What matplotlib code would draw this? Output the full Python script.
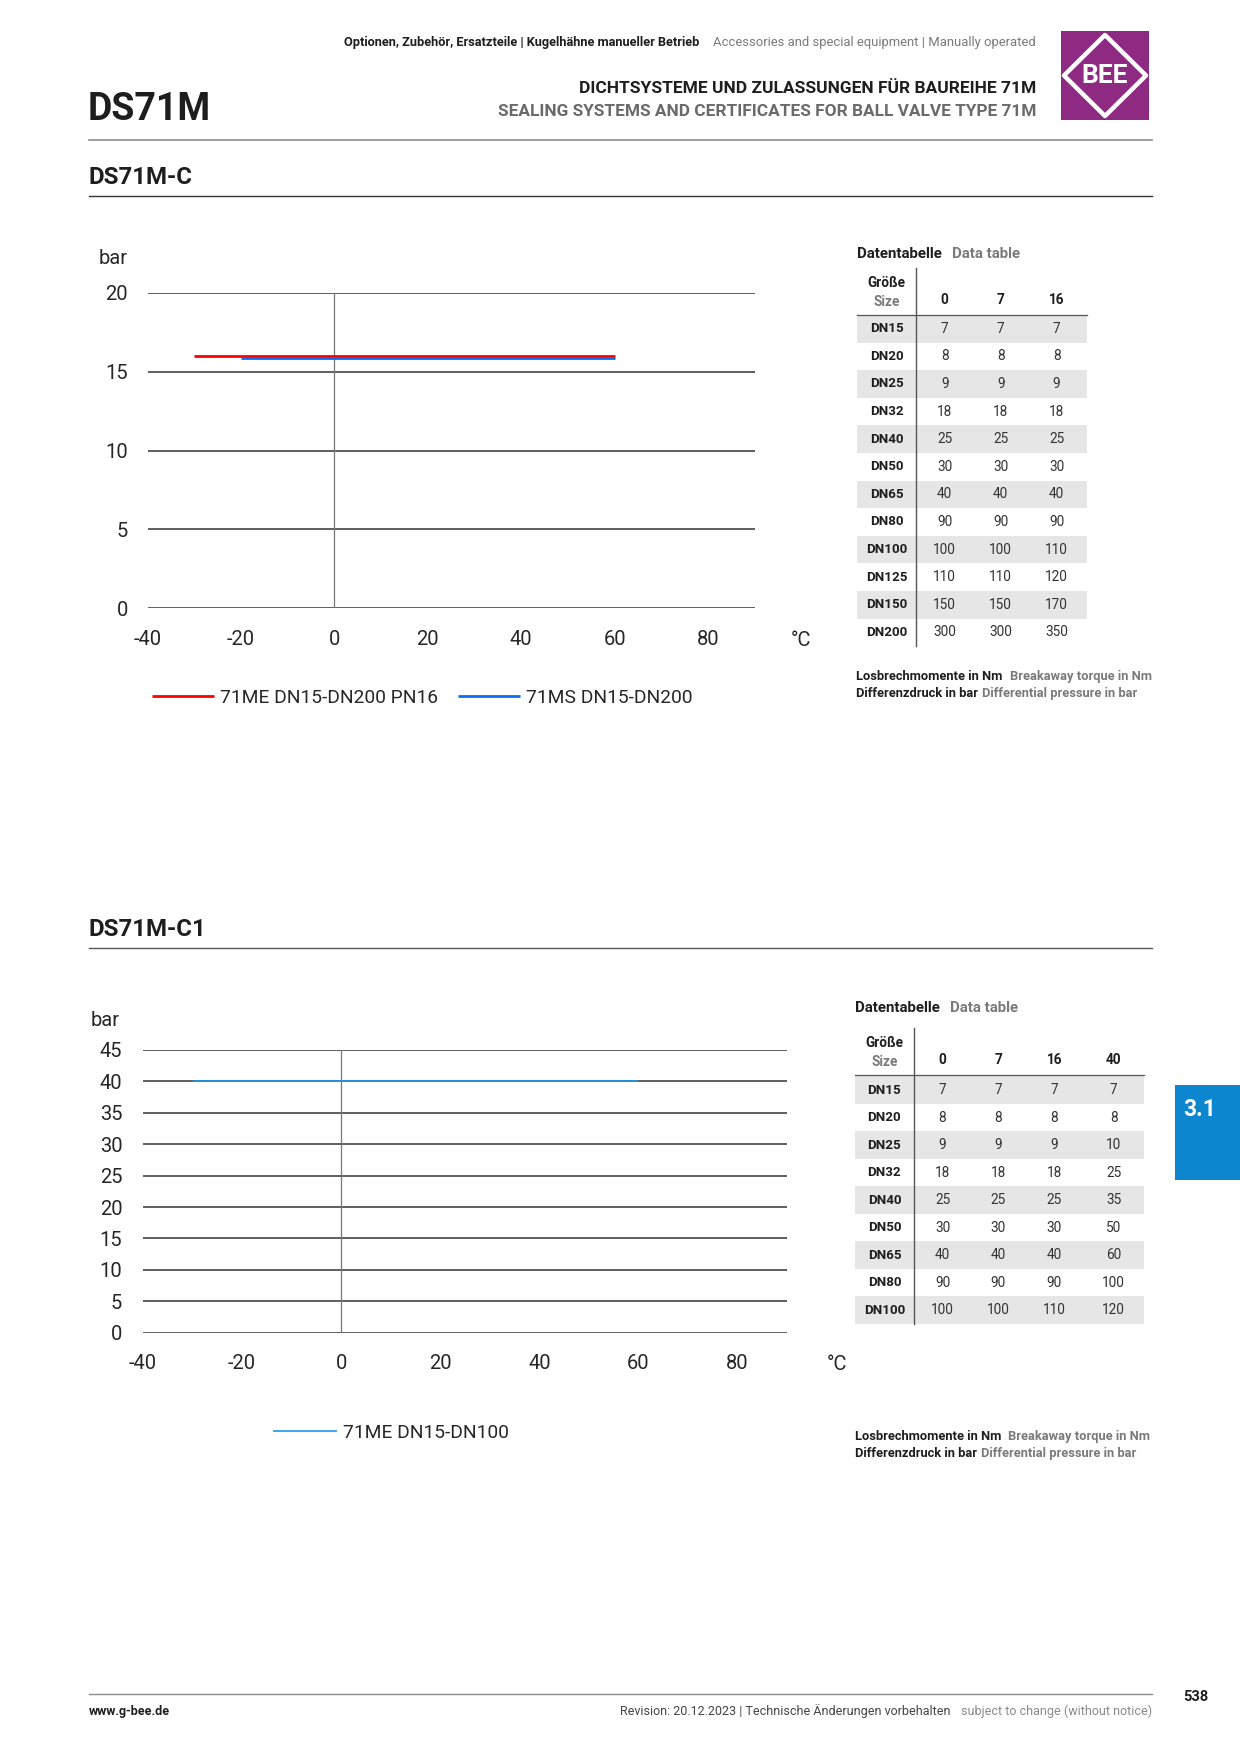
import matplotlib
matplotlib.use("Agg")
import matplotlib.pyplot as plt
from matplotlib.patches import Rectangle, Polygon

plt.rcParams["font.family"] = ["Roboto", "DejaVu Sans"]
plt.rcParams["axes.unicode_minus"] = False

# ---- data -------------------------------------------------------------
c1_series = ["71ME DN15-DN200 PN16", "71MS DN15-DN200"]
c1_colors = ["#ff0000", "#0a6cf5"]
c1_temps = [[-30, 60], [-20, 60]]
c1_bars = [[16, 16], [15.85, 15.85]]
c1_yticks = [0, 5, 10, 15, 20]

c2_series = ["71ME DN15-DN100"]
c2_colors = ["#1e96ee"]
c2_temps = [[-30, 60]]
c2_bars = [[40, 40]]
c2_yticks = [0, 5, 10, 15, 20, 25, 30, 35, 40, 45]

xticks = [-40, -20, 0, 20, 40, 60, 80]

t1_sizes = ["DN15", "DN20", "DN25", "DN32", "DN40", "DN50", "DN65", "DN80",
            "DN100", "DN125", "DN150", "DN200"]
t1_press = ["0", "7", "16"]
t1_vals = [[7, 7, 7], [8, 8, 8], [9, 9, 9], [18, 18, 18], [25, 25, 25],
           [30, 30, 30], [40, 40, 40], [90, 90, 90], [100, 100, 110],
           [110, 110, 120], [150, 150, 170], [300, 300, 350]]

t2_sizes = ["DN15", "DN20", "DN25", "DN32", "DN40", "DN50", "DN65", "DN80", "DN100"]
t2_press = ["0", "7", "16", "40"]
t2_vals = [[7, 7, 7, 7], [8, 8, 8, 8], [9, 9, 9, 10], [18, 18, 18, 25],
           [25, 25, 25, 35], [30, 30, 30, 50], [40, 40, 40, 60],
           [90, 90, 90, 100], [100, 100, 110, 120]]

DARK = "#1e1e1e"
GRAY = "#7a7a7a"
TXT = "#262626"

fig = plt.figure(figsize=(12.4, 17.54), dpi=100)

# page overlay in pixel coordinates
page = fig.add_axes([0, 0, 1, 1])
page.set_xlim(0, 1240)
page.set_ylim(1754, 0)
page.axis("off")

# header
page.text(1036, 42.5, "Accessories and special equipment | Manually operated",
          ha="right", va="center", fontsize=9.4, color=GRAY)
page.text(699, 42.5, "Optionen, Zubehör, Ersatzteile | Kugelhähne manueller Betrieb",
          ha="right", va="center", fontsize=9.2, color=DARK, fontweight="bold")
page.text(1036, 88.5, "DICHTSYSTEME UND ZULASSUNGEN FÜR BAUREIHE 71M",
          ha="right", va="center", fontsize=12.5, color=DARK, fontweight="bold")
page.text(1036, 111.5, "SEALING SYSTEMS AND CERTIFICATES FOR BALL VALVE TYPE 71M",
          ha="right", va="center", fontsize=12.4, color="#6a6a6a", fontweight="bold")
page.text(88, 109, "DS71M", ha="left", va="center", fontsize=27,
          color=DARK, fontweight="bold")

# logo
page.add_patch(Rectangle((1061, 31), 88, 89, facecolor="#8e2a82", edgecolor="none"))
page.add_patch(Polygon([(1105, 35), (1146, 75.5), (1105, 116), (1064, 75.5)],
                       closed=True, fill=False, edgecolor="white", lw=3.2,
                       joinstyle="round"))
page.text(1105, 76, "BEE", ha="center", va="center", fontsize=19,
          color="white", fontweight="bold")

page.plot([89, 1152], [140, 140], color="#8c8c8c", lw=1.2)

# section titles
page.text(88, 177, "DS71M-C", ha="left", va="center", fontsize=17.3,
          color=DARK, fontweight="bold")
page.plot([89, 1152], [196, 196], color="#333333", lw=1.0)
page.text(88, 929, "DS71M-C1", ha="left", va="center", fontsize=17.3,
          color=DARK, fontweight="bold")
page.plot([89, 1152], [948, 948], color="#555555", lw=1.0)

# chapter tab
page.add_patch(Rectangle((1175, 1085), 70, 95, facecolor="#0b86cf", edgecolor="none"))
page.text(1183, 1110, "3.1", ha="left", va="center", fontsize=16.5,
          color="white", fontweight="bold")

# footer
page.plot([89, 1152], [1694, 1694], color="#8c8c8c", lw=1.0)
page.text(89, 1711, "www.g-bee.de", ha="left", va="center", fontsize=9,
          color=DARK, fontweight="bold")
page.text(1152, 1711, "subject to change (without notice)", ha="right",
          va="center", fontsize=9, color="#8a8a8a")
page.text(951, 1711, "Revision: 20.12.2023 | Technische Änderungen vorbehalten",
          ha="right", va="center", fontsize=9, color="#444444")
page.text(1196, 1697, "538", ha="center", va="center", fontsize=10.5,
          color=DARK, fontweight="bold")


def draw_table(x0, x1, xv, title_y, hdr_y, size_x, cols_x, row_y0, dy,
               sizes, press, vals, notes_y):
    page.text(x0, title_y, "Datentabelle", ha="left", va="center",
              fontsize=10.8, color=DARK, fontweight="bold")
    page.text(x0 + 95, title_y, "Data table", ha="left", va="center",
              fontsize=10.8, color=GRAY, fontweight="bold")
    page.text(size_x, hdr_y - 17, "Größe", ha="center", va="center",
              fontsize=9.8, color=DARK, fontweight="bold")
    page.text(size_x, hdr_y + 2, "Size", ha="center", va="center",
              fontsize=9.8, color=GRAY, fontweight="bold")
    for cx, p in zip(cols_x, press):
        page.text(cx, hdr_y, p, ha="center", va="center", fontsize=9.8,
                  color=DARK, fontweight="bold")
    line_y = hdr_y + 14.5
    page.plot([x0, x1], [line_y, line_y], color="#555555", lw=0.9)
    for i, (s, row) in enumerate(zip(sizes, vals)):
        y = row_y0 + i * dy
        if i % 2 == 0:
            page.add_patch(Rectangle((x0, y - dy / 2), x1 - x0, dy,
                                     facecolor="#e6e6e7", edgecolor="none"))
        page.text(size_x, y, s, ha="center", va="center", fontsize=9.6,
                  color=DARK, fontweight="bold")
        for cx, v in zip(cols_x, row):
            page.text(cx, y, str(v), ha="center", va="center",
                      fontsize=9.8, color="#333333")
    page.plot([xv, xv], [hdr_y - 32, row_y0 + (len(sizes) - 0.5) * dy],
              color="#555555", lw=1.0)
    page.text(x0, notes_y, "Losbrechmomente in Nm", ha="left", va="center",
              fontsize=9.3, color=DARK, fontweight="bold")
    page.text(x0 + 153, notes_y, "Breakaway torque in Nm", ha="left",
              va="center", fontsize=9.3, color=GRAY, fontweight="bold")
    page.text(x0, notes_y + 17, "Differenzdruck in bar", ha="left",
              va="center", fontsize=9.3, color=DARK, fontweight="bold")
    page.text(x0 + 126, notes_y + 17, "Differential pressure in bar", ha="left",
              va="center", fontsize=9.3, color=GRAY, fontweight="bold")


draw_table(856.5, 1087, 915.7, 254, 300, 886.6, [944.7, 1000.7, 1056.6],
           328.7, 27.6, t1_sizes, t1_press, t1_vals, 676.4)
draw_table(855.3, 1144, 913.5, 1008.5, 1060, 884.4,
           [942.5, 998.4, 1054.3, 1113.6], 1090.1, 27.5,
           t2_sizes, t2_press, t2_vals, 1436.7)


def draw_chart(rect, temps, bars, colors, series, yticks, lw, ypad,
               bar_off, legend_anchor, handlelen, colspace):
    ax = fig.add_axes(rect)
    ax.patch.set_alpha(0)
    for t, b, c, s in zip(temps, bars, colors, series):
        ax.plot(t, b, color=c, lw=lw, label=s, solid_capstyle="butt", zorder=3)
    ax.set_xlim(-40, 90)
    ax.set_ylim(yticks[0], yticks[-1])
    ax.set_xticks(xticks)
    ax.set_yticks(yticks)
    for sp in ax.spines.values():
        sp.set_visible(False)
    ax.tick_params(length=0, labelsize=14.5, colors=TXT)
    ax.tick_params(axis="y", pad=ypad)
    ax.tick_params(axis="x", pad=15.5)
    for yv in yticks:
        ax.axhline(yv, color="#333333", lw=1.1, zorder=1)
    ax.plot([0, 0], [yticks[0], yticks[-1]], color="#777777", lw=0.9, zorder=1)
    ax.annotate("°C", xy=(100, 0), xycoords=("data", "axes fraction"),
                xytext=(0, -23), textcoords="offset points", ha="center",
                va="center", fontsize=14.5, color=TXT, annotation_clip=False)
    ax.annotate("bar", xy=(0, 1), xycoords="axes fraction",
                xytext=bar_off, textcoords="offset points", ha="center",
                va="center", fontsize=14.5, color=TXT, annotation_clip=False)
    leg = ax.legend(loc="center left", bbox_to_anchor=legend_anchor,
                    bbox_transform=fig.transFigure, ncol=len(series),
                    frameon=False, fontsize=13.8, handlelength=handlelen,
                    handletextpad=0.3, columnspacing=colspace,
                    borderpad=0, borderaxespad=0)
    for t in leg.get_texts():
        t.set_color(TXT)
    return ax


draw_chart([147.6 / 1240, 1 - 608.2 / 1754, 607.1 / 1240, 315.2 / 1754],
           c1_temps, c1_bars, c1_colors, c1_series, c1_yticks, 2.0, 14,
           (-25, 25), (152 / 1240, 1 - 698 / 1754), 3.25, 1.05)
draw_chart([143.1 / 1240, 1 - 1332.8 / 1754, 644 / 1240, 282.9 / 1754],
           c2_temps, c2_bars, c2_colors, c2_series, c2_yticks, 1.2, 15,
           (-27, 21), (273 / 1240, 1 - 1432.5 / 1754), 3.35, 1.0)

fig.savefig("out.png", dpi=100)
